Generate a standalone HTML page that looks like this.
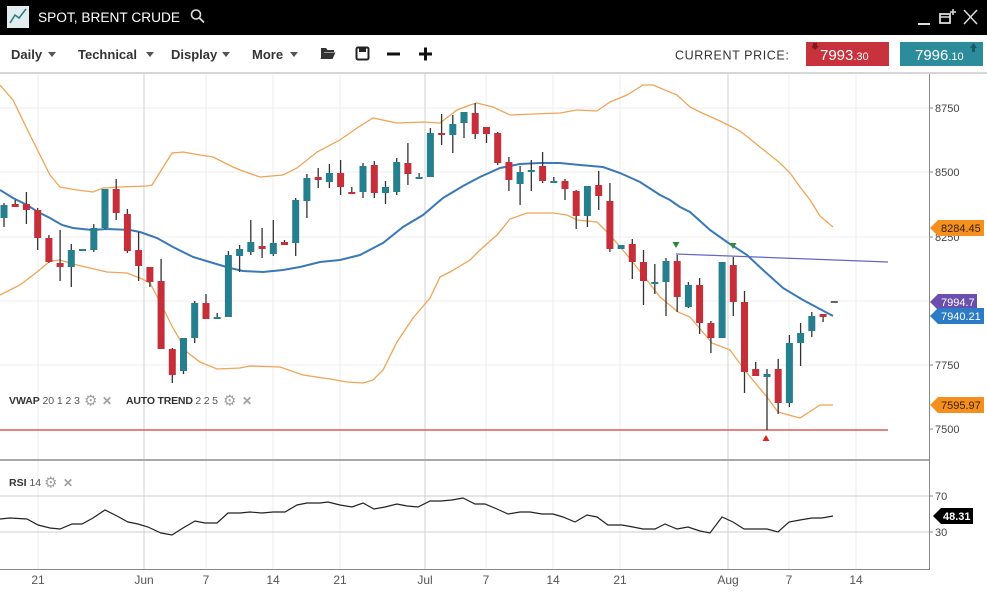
<!DOCTYPE html>
<html><head><meta charset="utf-8"><style>
html,body{margin:0;padding:0;background:#fff;width:987px;height:597px;overflow:hidden}
svg{display:block}
text{font-family:"Liberation Sans",sans-serif}
</style></head><body>
<svg width="987" height="597" viewBox="0 0 987 597" xmlns="http://www.w3.org/2000/svg">
<!-- header -->
<rect x="0" y="0" width="987" height="35" fill="#000"/>
<rect x="7" y="6" width="22" height="22" fill="#e4eded"/>
<polyline points="10,23 15,15 19,18 26,9" fill="none" stroke="#2a7f8e" stroke-width="1.6"/>
<text x="38" y="22" font-size="13.5" fill="#fff" textLength="142" lengthAdjust="spacingAndGlyphs">SPOT, BRENT CRUDE</text>
<circle cx="196" cy="14.5" r="4.5" fill="none" stroke="#ddd" stroke-width="1.6"/>
<line x1="199.5" y1="18" x2="204" y2="22.5" stroke="#ddd" stroke-width="1.8"/>
<line x1="918" y1="24" x2="930" y2="24" stroke="#ddd" stroke-width="2"/>
<rect x="940" y="14" width="10" height="9" fill="none" stroke="#ddd" stroke-width="1.8"/>
<line x1="940" y1="17" x2="950" y2="17" stroke="#ddd" stroke-width="1.5"/>
<path d="M953 9V15M950 12H956" stroke="#ddd" stroke-width="1.5"/>
<path d="M964 10L977 24M977 10L964 24" stroke="#ddd" stroke-width="1.5"/>
<!-- toolbar -->
<g font-size="13" font-weight="bold" fill="#333">
<text x="11" y="59">Daily</text>
<text x="78" y="59">Technical</text>
<text x="171" y="59">Display</text>
<text x="252" y="59">More</text>
</g>
<g fill="#555">
<path d="M48 52h8l-4 5z"/><path d="M146 52h8l-4 5z"/><path d="M222 52h8l-4 5z"/><path d="M290 52h8l-4 5z"/>
</g>
<path d="M321 48h5l1.5 2h6.5v2h-10l-3 7z" fill="#333"/>
<path d="M323.5 52.5h12l-3 6.5h-12z" fill="#333"/>
<rect x="356.5" y="47.5" width="12" height="12" rx="1.5" fill="none" stroke="#222" stroke-width="2"/>
<rect x="359" y="48" width="7" height="4" fill="#222"/>
<rect x="387" y="52.5" width="13" height="3" fill="#111"/>
<rect x="419" y="52.5" width="13" height="3" fill="#111"/>
<rect x="424" y="47.5" width="3" height="13" fill="#111"/>
<text x="675" y="59.5" font-size="12.5" fill="#333" letter-spacing="0.6">CURRENT PRICE:</text>
<rect x="806" y="42" width="83" height="24" fill="#c8323c"/>
<path d="M813 43h4v3h2l-4 4l-4-4h2z" fill="#7e1a20"/>
<text x="820" y="60" font-size="15" fill="#fff">7993<tspan font-size="11">.30</tspan></text>
<rect x="900" y="42" width="83" height="24" fill="#2c8c9c"/>
<path d="M972 52h3v-4h2l-3.5-5l-3.5 5h2z" fill="#1a5a66"/>
<text x="915" y="60" font-size="15" fill="#fff">7996<tspan font-size="11">.10</tspan></text>
<line x1="0" y1="73" x2="987" y2="73" stroke="#c8c8c8" stroke-width="1.5"/>

<!-- grid -->
<g stroke="#ececec" stroke-width="1">
<path d="M0 108H929M0 172H929M0 237H929M0 301H929M0 365H929"/>
<path d="M38 74V569M206 74V569M273 74V569M340 74V569M486 74V569M553 74V569M620 74V569M789 74V569M856 74V569"/>
</g>
<path d="M144 74V569M425 74V569M728 74V569" stroke="#d2d2d2" stroke-width="1"/>
<path d="M0 496H929M0 532H929" stroke="#cfcfcf" stroke-width="1"/>

<!-- bands -->
<polyline fill="none" stroke="#f0a456" stroke-width="1.3" points="0,85 13,100 30,135 50,175 60,187 77,190 93,192 103,188 120,187 147,186 152,185 172,153 183,152 200,155 213,157 233,167 240,170 260,177 283,175 297,168 317,152 340,140 357,128 373,118 397,123 423,122 440,123 457,110 470,105 477,103 493,107 510,115 533,114 560,113 577,110 597,111 610,102 627,95 643,85 653,85 677,95 690,107 700,112 720,121 740,131 760,147 780,163 790,173 800,187 810,200 820,216 833,227"/>
<polyline fill="none" stroke="#f0a456" stroke-width="1.3" points="0,295 20,285 37,272 50,261 60,260 77,265 107,272 127,273 140,278 150,283 160,302 173,328 187,352 200,362 217,369 240,368 250,366 280,367 303,375 330,379 347,382 363,383 373,380 383,370 397,342 413,318 430,298 440,277 450,272 470,260 480,250 497,235 510,219 527,213 553,213 567,215 577,220 597,222 610,235 627,255 643,275 660,297 678,312 690,317 712,343 730,350 747,373 767,397 778,412 800,418 820,405 833,405"/>
<polyline fill="none" stroke="#3a78b8" stroke-width="2" points="0,190 13,198 27,205 38,212 50,218 62,225 73,228 92,230 107,229 130,230 140,232 157,238 173,247 193,257 213,263 230,268 243,271 263,272 283,270 300,267 320,262 340,260 360,255 383,243 403,227 423,215 443,198 463,186 480,177 500,168 520,164 540,163 560,163 580,165 603,167 620,173 640,182 660,195 670,200 680,207 690,212 700,221 710,230 727,242 747,255 763,270 783,288 803,300 833,316"/>

<!-- lines -->
<line x1="0" y1="430" x2="888" y2="430" stroke="#e05a5a" stroke-width="1.6"/>
<line x1="676" y1="254" x2="888" y2="262" stroke="#6666c4" stroke-width="1.3"/>

<!-- wicks -->
<path stroke="#333" stroke-width="1.3" fill="none" d="M4 203V227 M15.2 200V207 M26.4 192V224 M37.7 208V250 M48.9 235V263 M60.1 230V281 M71.3 244V287 M93.8 224V252 M105 189V229 M116.2 179V220 M127.4 209V253 M138.6 232V281 M149.9 267V287 M161.1 259V349 M172.3 348V383 M183.5 338V374 M194.7 301V343 M206 294V319 M217.2 313V319 M228.4 251V317 M239.6 245V272 M250.8 220V255 M262.1 228V258 M273.3 220V256 M284.5 240V245 M295.7 198V256 M306.9 174V218 M318.2 168V188 M329.4 164V188 M340.6 160V195 M351.8 187V194 M363 163V198 M374.3 161V198 M385.5 181V204 M396.7 158V195 M407.9 143V185 M419.1 173V179 M430.4 128V177 M441.6 114V145 M452.8 115V153 M464 112V138 M475.2 103V139 M486.5 127V143 M497.7 132V165 M508.9 157V191 M520.1 166V205 M531.3 160V191 M542.6 152V183 M553.8 177V183 M565 179V200 M576.2 190V229 M587.4 186V227 M598.7 171V210 M609.9 183V252 M632.3 239V279 M643.5 250V305 M654.8 264V294 M666 258V316 M677.2 255V312 M688.4 282V308 M699.6 278V334 M710.9 321V353 M733.3 257V316 M744.5 291V393 M755.7 362V376 M767 369V430 M778.2 359V414 M789.4 335V407 M800.6 323V366 M811.8 312V337 M823.1 314V322"/>
<line x1="830.8" y1="302" x2="837.8" y2="302" stroke="#333" stroke-width="1.5"/>

<!-- teal bodies -->
<g fill="#267f8e">
<rect x="0.5" y="205" width="7" height="13"/>
<rect x="67.8" y="250" width="7" height="17"/>
<rect x="79" y="249" width="7" height="2"/>
<rect x="90.3" y="228" width="7" height="22"/>
<rect x="101.5" y="189" width="7" height="39"/>
<rect x="180" y="338" width="7" height="33"/>
<rect x="191.2" y="303" width="7" height="35"/>
<rect x="213.7" y="317" width="7" height="2"/>
<rect x="224.9" y="255" width="7" height="62"/>
<rect x="236.1" y="249" width="7" height="7"/>
<rect x="247.3" y="242" width="7" height="10"/>
<rect x="269.8" y="243" width="7" height="11"/>
<rect x="292.2" y="200" width="7" height="43"/>
<rect x="303.4" y="178" width="7" height="23"/>
<rect x="325.9" y="173" width="7" height="9"/>
<rect x="359.5" y="166" width="7" height="26"/>
<rect x="382" y="187" width="7" height="6"/>
<rect x="393.2" y="162" width="7" height="30"/>
<rect x="415.6" y="177" width="7" height="2"/>
<rect x="426.9" y="133" width="7" height="44"/>
<rect x="449.3" y="124" width="7" height="11"/>
<rect x="460.5" y="112" width="7" height="11"/>
<rect x="516.6" y="172" width="7" height="12"/>
<rect x="527.8" y="170" width="7" height="2"/>
<rect x="550.3" y="181" width="7" height="2"/>
<rect x="583.9" y="186" width="7" height="30"/>
<rect x="617.6" y="245" width="7" height="4"/>
<rect x="651.3" y="282" width="7" height="2"/>
<rect x="662.5" y="261" width="7" height="21"/>
<rect x="684.9" y="285" width="7" height="22"/>
<rect x="718.6" y="262" width="7" height="76"/>
<rect x="763.5" y="374" width="7" height="3"/>
<rect x="785.9" y="343" width="7" height="60"/>
<rect x="797.1" y="333" width="7" height="10"/>
<rect x="808.3" y="316" width="7" height="15"/>
</g>
<!-- red bodies -->
<g fill="#c62f3a">
<rect x="11.7" y="204" width="7" height="3"/>
<rect x="22.9" y="204" width="7" height="6"/>
<rect x="34.2" y="210" width="7" height="28"/>
<rect x="45.4" y="238" width="7" height="24"/>
<rect x="56.6" y="263" width="7" height="4"/>
<rect x="112.7" y="189" width="7" height="24"/>
<rect x="123.9" y="214" width="7" height="37"/>
<rect x="135.1" y="250" width="7" height="16"/>
<rect x="146.4" y="267" width="7" height="15"/>
<rect x="157.6" y="281" width="7" height="68"/>
<rect x="168.8" y="349" width="7" height="26"/>
<rect x="202.5" y="303" width="7" height="16"/>
<rect x="258.6" y="246" width="7" height="3"/>
<rect x="281" y="242" width="7" height="3"/>
<rect x="314.7" y="177" width="7" height="3"/>
<rect x="337.1" y="173" width="7" height="14"/>
<rect x="348.3" y="192" width="7" height="2"/>
<rect x="370.8" y="165" width="7" height="28"/>
<rect x="404.4" y="163" width="7" height="11"/>
<rect x="438.1" y="133" width="7" height="2"/>
<rect x="471.7" y="113" width="7" height="21"/>
<rect x="483" y="127" width="7" height="7"/>
<rect x="494.2" y="133" width="7" height="30"/>
<rect x="505.4" y="162" width="7" height="18"/>
<rect x="539.1" y="166" width="7" height="15"/>
<rect x="561.5" y="181" width="7" height="8"/>
<rect x="572.7" y="191" width="7" height="25"/>
<rect x="595.2" y="185" width="7" height="11"/>
<rect x="606.4" y="201" width="7" height="48"/>
<rect x="628.8" y="244" width="7" height="18"/>
<rect x="640" y="262" width="7" height="19"/>
<rect x="673.7" y="261" width="7" height="36"/>
<rect x="696.1" y="285" width="7" height="38"/>
<rect x="707.4" y="323" width="7" height="15"/>
<rect x="729.8" y="265" width="7" height="37"/>
<rect x="741" y="302" width="7" height="70"/>
<rect x="752.2" y="369" width="7" height="7"/>
<rect x="774.7" y="369" width="7" height="34"/>
<rect x="819.6" y="314" width="7" height="3"/>
</g>

<!-- markers -->
<path d="M672.5 242h7l-3.5 6z" fill="#2a8a3a"/>
<path d="M729.5 243h7l-3.5 6z" fill="#2a8a3a"/>
<path d="M762.5 441h7l-3.5-6z" fill="#e02020"/>

<!-- legends -->
<text x="9" y="404" font-size="10.5" fill="#333" textLength="71" lengthAdjust="spacing"><tspan font-weight="bold">VWAP</tspan><tspan fill="#555"> 20 1 2 3</tspan></text>
<text x="84" y="405.5" font-size="15" fill="#a0a0a0" font-family="DejaVu Sans">⚙</text>
<text x="102" y="405" font-size="12" fill="#a0a0a0" font-family="DejaVu Sans" font-weight="bold">✕</text>
<text x="126" y="404" font-size="10.5" fill="#333" textLength="92" lengthAdjust="spacing"><tspan font-weight="bold">AUTO TREND</tspan><tspan fill="#555"> 2 2 5</tspan></text>
<text x="223" y="405.5" font-size="15" fill="#a0a0a0" font-family="DejaVu Sans">⚙</text>
<text x="242" y="405" font-size="12" fill="#a0a0a0" font-family="DejaVu Sans" font-weight="bold">✕</text>
<text x="9" y="486" font-size="10.5" fill="#333"><tspan font-weight="bold">RSI</tspan><tspan fill="#555"> 14</tspan></text>
<text x="44" y="487.5" font-size="15" fill="#a0a0a0" font-family="DejaVu Sans">⚙</text>
<text x="63" y="487" font-size="12" fill="#a0a0a0" font-family="DejaVu Sans" font-weight="bold">✕</text>

<!-- RSI -->
<polyline fill="none" stroke="#222" stroke-width="1.2" points="0,519 10,518 27,519 38,525 50,528 60,529 72,524 82,524 93,518 105,510 117,516 128,522 138,524 148,527 161,533 172,535 183,528 195,521 205,523 217,523 228,513 240,513 250,512 262,513 273,512 285,512 297,505 307,503 320,503 328,502 340,505 352,507 363,503 374,509 385,507 397,504 407,506 418,507 430,501 441,501 452,500 463,498 475,504 485,504 497,509 508,514 520,512 530,512 542,514 553,514 563,517 575,522 587,515 597,517 608,525 622,525 633,527 643,529 655,529 665,524 677,529 688,527 700,531 710,533 722,517 733,522 744,529 755,529 767,529 778,532 789,522 800,520 812,518 822,518 833,516"/>

<!-- axes -->
<line x1="0" y1="460" x2="930" y2="460" stroke="#a8a8a8" stroke-width="2"/>
<line x1="929.5" y1="74" x2="929.5" y2="570" stroke="#888" stroke-width="1"/>
<line x1="0" y1="569.5" x2="930" y2="569.5" stroke="#888" stroke-width="1"/>
<path d="M929 108h4M929 172h4M929 237h4M929 365h4M929 429h4M929 496h4M929 532h4" stroke="#888"/>
<g font-size="11" fill="#444">
<text x="935" y="112">8750</text>
<text x="935" y="176">8500</text>
<text x="935" y="241">8250</text>
<text x="935" y="369">7750</text>
<text x="935" y="433">7500</text>
<text x="935" y="500">70</text>
<text x="935" y="536">30</text>
</g>
<!-- tags -->
<path d="M930 228l8-8h46v16h-46z" fill="#f5901e"/>
<text x="941" y="232" font-size="11" fill="#3a2000">8284.45</text>
<path d="M930 302l8-8h39v16h-39z" fill="#6b4fae"/>
<text x="941" y="306" font-size="11" fill="#fff">7994.7</text>
<path d="M930 316l8-8h46v16h-46z" fill="#2b7cc4"/>
<text x="941" y="320" font-size="11" fill="#fff">7940.21</text>
<path d="M930 405l8-8h46v16h-46z" fill="#f5901e"/>
<text x="941" y="409" font-size="11" fill="#3a2000">7595.97</text>
<path d="M933 516l8-8h32v16h-32z" fill="#000"/>
<text x="943" y="520" font-size="11" font-weight="bold" fill="#fff">48.31</text>

<!-- x labels -->
<g font-size="12" fill="#555" text-anchor="middle">
<text x="38" y="584">21</text>
<text x="144" y="584">Jun</text>
<text x="206" y="584">7</text>
<text x="273" y="584">14</text>
<text x="340" y="584">21</text>
<text x="425" y="584">Jul</text>
<text x="486" y="584">7</text>
<text x="553" y="584">14</text>
<text x="620" y="584">21</text>
<text x="728" y="584">Aug</text>
<text x="789" y="584">7</text>
<text x="856" y="584">14</text>
</g>
</svg>
</body></html>
